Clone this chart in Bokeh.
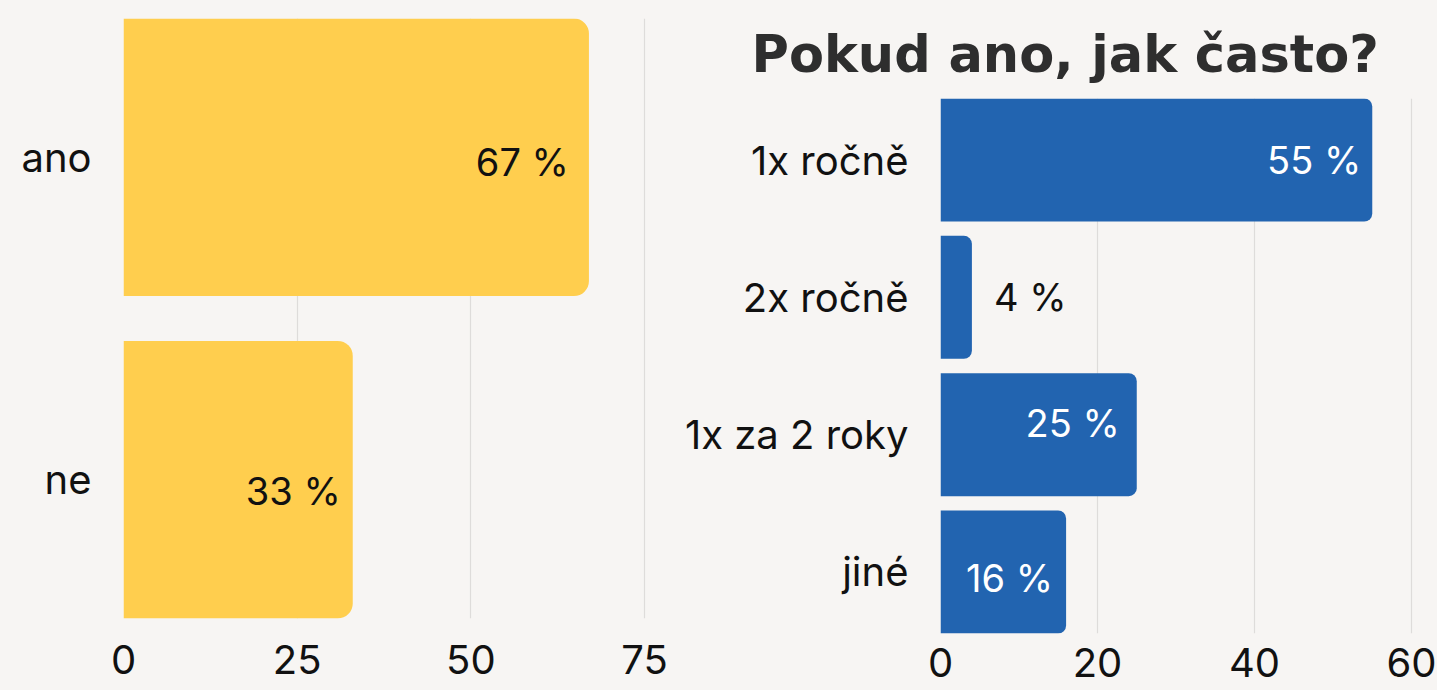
from bokeh.plotting import figure
from bokeh.models import FactorRange, Range1d, ColumnDataSource, FixedTicker, Title
from bokeh.layouts import row
from bokeh.embed import file_html
from bokeh.resources import INLINE

# ---- data ----
left_categories = ["ano", "ne"]
left_values = [67, 33]
left_ticks = [0, 25, 50, 75]

right_title = "Pokud ano, jak často?"
right_categories = ["1x ročně", "2x ročně", "1x za 2 roky", "jiné"]
right_values = [55, 4, 25, 16]
right_ticks = [0, 20, 40, 60]

# ---- style ----
BG = "#F7F5F3"
YELLOW = "#FFCE4E"
BLUE = "#2264B0"
GRID = "#DEDCDA"
FONT = "Inter"
TITLE_FONT = "DejaVu Sans"
LABEL_SIZE = "40px"
VALUE_SIZE = "38px"


def style(p, ticks):
    p.background_fill_color = BG
    p.border_fill_color = BG
    p.outline_line_color = None
    p.ygrid.grid_line_color = None
    p.xgrid.grid_line_color = GRID
    p.xgrid.grid_line_width = 1.2
    p.xaxis.ticker = FixedTicker(ticks=ticks)
    for ax in (p.xaxis[0], p.yaxis[0]):
        ax.axis_line_color = None
        ax.major_tick_line_color = None
        ax.minor_tick_line_color = None
        ax.major_label_text_font = FONT
        ax.major_label_text_font_size = LABEL_SIZE
        ax.major_label_text_color = "#111111"
    p.yaxis.major_label_standoff = 26


# ---- left chart ----
pl = figure(width=680, height=690, output_backend="svg", toolbar_location=None,
            frame_align=False,
            x_range=Range1d(0, 75.43),
            y_range=FactorRange(factors=left_categories[::-1], range_padding=-0.0695,
                                range_padding_units="absolute"),
            min_border_left=123, min_border_right=33, min_border_top=18, min_border_bottom=72)
style(pl, left_ticks)
pl.xaxis.major_label_standoff = 20

pl.hbar(y=left_categories, right=left_values, left=0, height=0.861,
        fill_color=YELLOW, line_color=None, border_radius=(0, 15, 15, 0))

lsrc = ColumnDataSource(dict(
    y=left_categories, x=left_values,
    t=[f"{v} %" for v in left_values],
    xo=[-20, -12], yo=[5, 11],
))
pl.text(x="x", y="y", text="t", source=lsrc, x_offset="xo", y_offset="yo",
        text_align="right", text_baseline="middle", text_color="#111111",
        text_font={"value": FONT}, text_font_size=VALUE_SIZE)

# ---- right chart ----
pr = figure(width=757, height=690, output_backend="svg", toolbar_location=None,
            frame_align=False,
            x_range=Range1d(0, 60.38),
            y_range=FactorRange(factors=right_categories[::-1], range_padding=-0.052,
                                range_padding_units="absolute"),
            min_border_left=260, min_border_right=23, min_border_top=98, min_border_bottom=57)
style(pr, right_ticks)
pr.xaxis.major_label_standoff = 8

pr.hbar(y=right_categories, right=right_values, left=0, height=0.896,
        fill_color=BLUE, line_color=None, border_radius=(0, 8, 8, 0))

rsrc = ColumnDataSource(dict(
    y=right_categories, x=right_values,
    t=[f"{v} %" for v in right_values],
    xo=[-11, 22, -17, -13], yo=[0, 0, -12, 6],
    al=["right", "left", "right", "right"],
    c=["#FFFFFF", "#111111", "#FFFFFF", "#FFFFFF"],
))
pr.text(x="x", y="y", text="t", source=rsrc, x_offset="xo", y_offset="yo",
        text_align="al", text_baseline="middle", text_color="c",
        text_font={"value": FONT}, text_font_size=VALUE_SIZE)

pr.add_layout(Title(text=right_title, align="left", offset=-189, standoff=29,
                    text_font=TITLE_FONT, text_font_style="bold", text_font_size="51px",
                    text_color="#2E2E2E"), "above")

layout = row(pl, pr, spacing=0, styles={"background-color": BG})
open("out.html", "w").write(file_html(layout, INLINE))
